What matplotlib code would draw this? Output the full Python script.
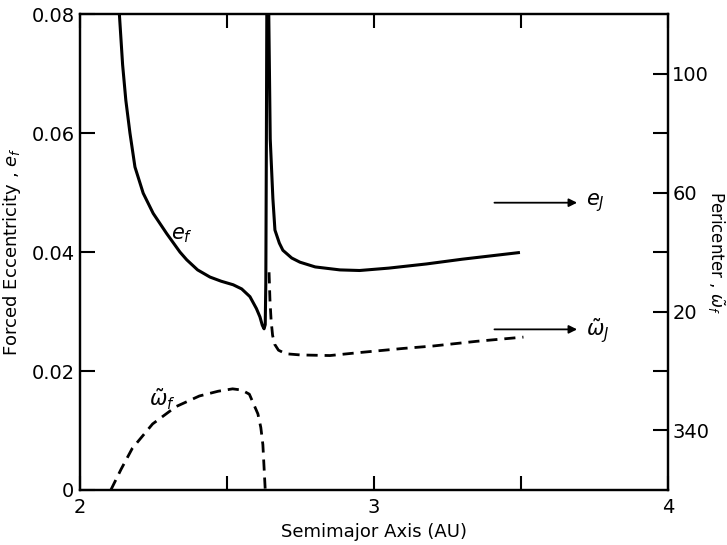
import numpy as np
import matplotlib
matplotlib.use('Agg')
import matplotlib.pyplot as plt

# forced eccentricity e_f vs semimajor axis (AU)
a_ecc = [2.128, 2.134, 2.145, 2.156, 2.170, 2.187, 2.215, 2.249, 2.295, 2.34,
         2.363, 2.40, 2.442, 2.48, 2.521, 2.55, 2.578, 2.60, 2.612, 2.62,
         2.626, 2.630, 2.632, 2.634, 2.636, 2.640, 2.642, 2.647, 2.656, 2.663,
         2.678, 2.69, 2.72, 2.748, 2.80, 2.884, 2.951, 3.05, 3.178, 3.30, 3.491]
e_forced = [0.09, 0.080, 0.0715, 0.0655, 0.0600, 0.0543, 0.0499, 0.0465, 0.0431, 0.0400,
            0.0387, 0.0370, 0.0358, 0.0351, 0.0345, 0.0338, 0.0325, 0.0305, 0.0291, 0.0277,
            0.0271, 0.0278, 0.035, 0.060, 0.09, 0.09, 0.080, 0.059, 0.049, 0.0437,
            0.0415, 0.0403, 0.0390, 0.0383, 0.0375, 0.0370, 0.0369, 0.0373, 0.0380, 0.0388, 0.0399]

# forced pericenter (degrees), inner branch and outer branch
a_peri_in = [2.105, 2.14, 2.178, 2.247, 2.326, 2.406, 2.47, 2.519, 2.55, 2.576,
             2.605, 2.615, 2.622, 2.630]
peri_in = [320, 327, 334, 342.2, 348, 351.6, 353.2, 354, 353.6, 352.2,
           345.6, 341, 335.2, 320]
a_peri_out = [2.643, 2.646, 2.650, 2.655, 2.662, 2.675, 2.70, 2.75, 2.85, 2.95,
              3.10, 3.20, 3.35, 3.508]
peri_out = [33.2, 24, 17, 12, 9, 7, 5.8, 5.4, 5.2, 6.2,
            7.6, 8.4, 10, 11.4]

left_ticks = [0, 0.02, 0.04, 0.06, 0.08]
left_labels = ['0', '0.02', '0.04', '0.06', '0.08']
right_ticks = [-20, 0, 20, 40, 60, 80, 100]
right_labels = ['340', '', '20', '', '60', '', '100']
x_ticks = [2, 2.5, 3, 3.5, 4]
x_labels = ['2', '', '3', '', '4']


def wrap(deg):
    d = np.asarray(deg, dtype=float)
    return np.where(d > 180, d - 360, d)


plt.rcParams['font.family'] = 'DejaVu Sans'
fig = plt.figure(figsize=(7.27, 5.45), dpi=100)
ax = fig.add_axes([0.110, 0.101, 0.809, 0.873])
ax2 = ax.twinx()

ax.plot(a_ecc, e_forced, color='black', lw=2.2, solid_joinstyle='round')
ax2.plot(a_peri_in, wrap(peri_in), color='black', lw=2.0, ls=(0, (4, 2.5)))
ax2.plot(a_peri_out, wrap(peri_out), color='black', lw=2.0, ls=(0, (4, 2.5)))

ax.set_xlim(2, 4)
ax.set_ylim(0, 0.08)
ax2.set_ylim(-40, 120)

ax.set_xticks(x_ticks)
ax.set_xticklabels(x_labels)
ax.set_yticks(left_ticks)
ax.set_yticklabels(left_labels)
ax2.set_yticks(right_ticks)
ax2.set_yticklabels(right_labels)

ax.tick_params(axis='x', direction='in', length=10, width=1.5, top=True,
               labelsize=14, pad=6)
ax.tick_params(axis='y', direction='in', length=11, width=1.5, labelsize=14, pad=4)
ax2.tick_params(axis='y', direction='in', length=11, width=1.5, labelsize=14, pad=3)
for sp in list(ax.spines.values()) + list(ax2.spines.values()):
    sp.set_linewidth(1.6)

ax.set_xlabel('Semimajor Axis (AU)', fontsize=13, labelpad=4)
ax.set_ylabel(r'Forced Eccentricity , $e_f$', fontsize=13, labelpad=6)
fig.text(0.984, 0.537, r'Pericenter , $\tilde{\omega}_f$', fontsize=12,
         rotation=-90, ha='center', va='center')

# curve labels
ax.text(2.345, 0.0428, r'$e_f$', fontsize=15, ha='center', va='center')
ax.text(2.28, 0.0152, r'$\tilde{\omega}_f$', fontsize=15, ha='center', va='center')

# arrows for Jupiter's values
arrow = dict(arrowstyle='-|>', color='black', lw=1.3, mutation_scale=12)
ax.annotate('', xy=(3.70, 0.0483), xytext=(3.40, 0.0483), arrowprops=arrow)
ax.text(3.72, 0.0483, r'$e_J$', fontsize=15, va='center', ha='left')
ax.annotate('', xy=(3.70, 0.0270), xytext=(3.40, 0.0270), arrowprops=arrow)
ax.text(3.72, 0.0268, r'$\tilde{\omega}_J$', fontsize=15, va='center', ha='left')

fig.savefig('out.png', dpi=100)
